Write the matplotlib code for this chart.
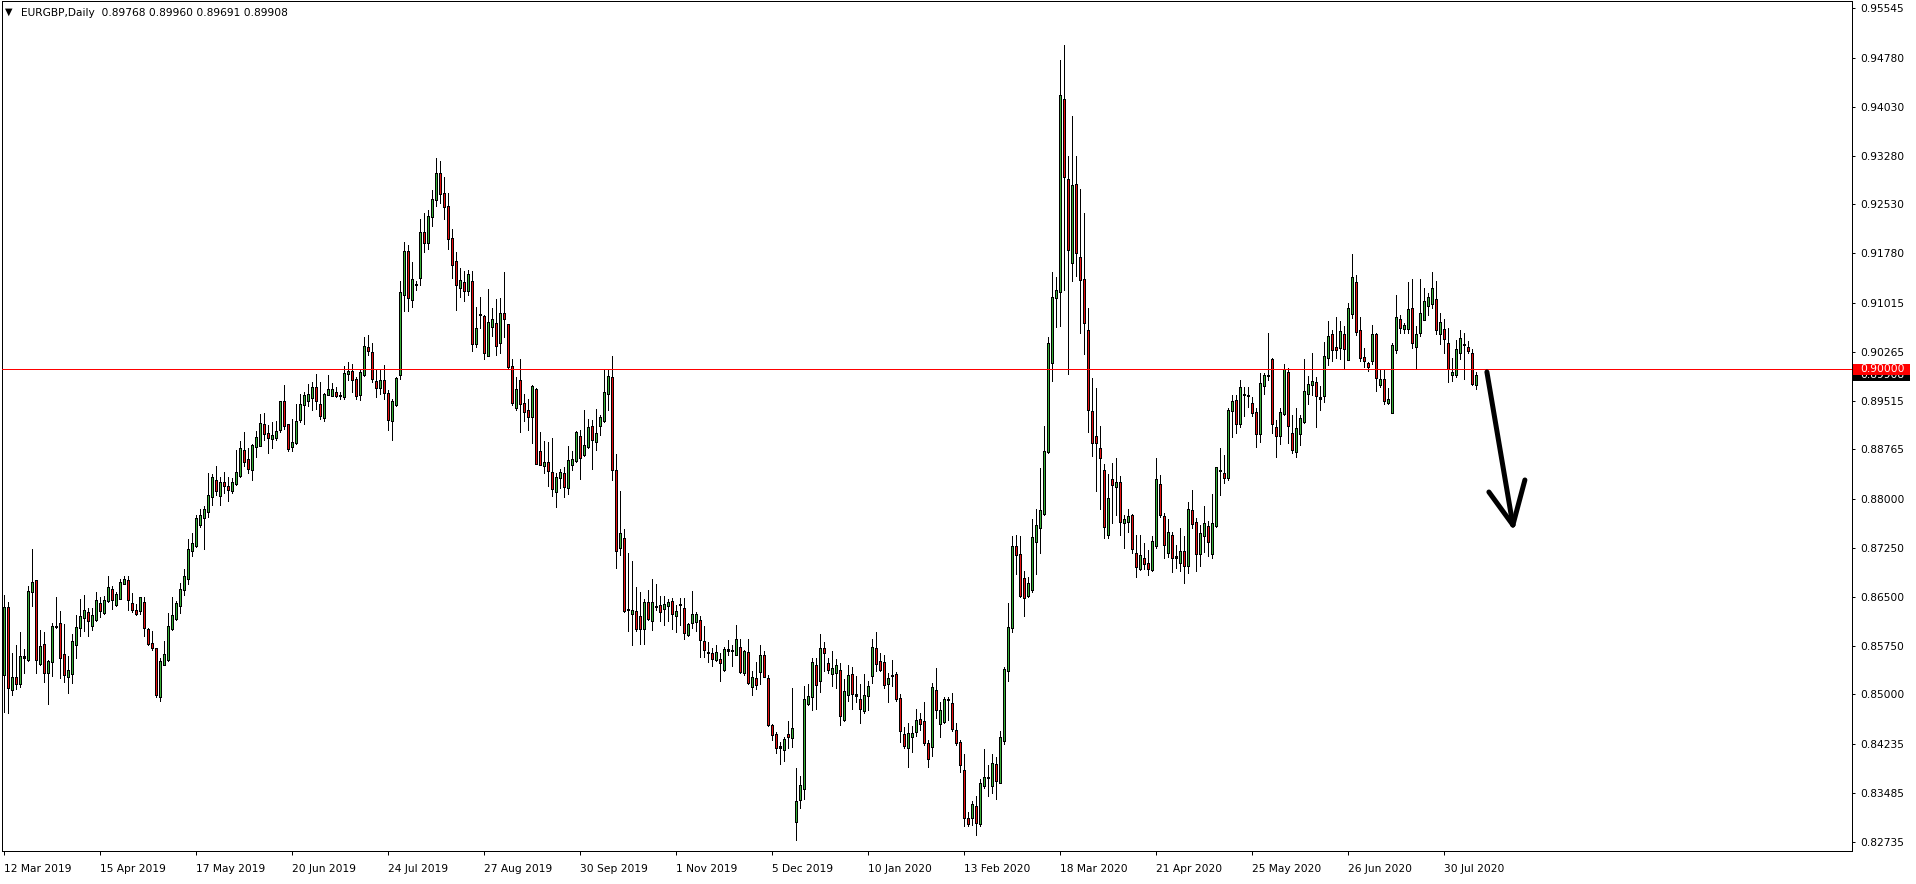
import numpy as np
import matplotlib
matplotlib.use("Agg")
import matplotlib.pyplot as plt
from matplotlib.patches import Rectangle
from matplotlib.transforms import IdentityTransform

symbol_title = "EURGBP,Daily"

opens = [
    0.85305, 0.86328, 0.85078, 0.85265, 0.85163, 0.85561, 0.85532, 0.86584, 0.86743, 0.85475,
    0.85771, 0.85333, 0.85504, 0.86044, 0.86084, 0.85617, 0.85276, 0.85316, 0.85771, 0.86027,
    0.86186, 0.86260, 0.86061, 0.86146, 0.86402, 0.86254, 0.86442, 0.86613, 0.86379, 0.86470,
    0.86709, 0.86743, 0.86402, 0.86289, 0.86289, 0.86413, 0.86004, 0.85788, 0.85703, 0.84964,
    0.85458, 0.85532, 0.86015, 0.86158, 0.86368, 0.86613, 0.86783, 0.87210, 0.87283, 0.87608,
    0.87721, 0.87818, 0.88034, 0.88290, 0.88063, 0.88262, 0.88188, 0.88131, 0.88245, 0.88358,
    0.88745, 0.88603, 0.88449, 0.88802, 0.88824, 0.89154, 0.89012, 0.88932, 0.88944, 0.89069,
    0.89495, 0.89143, 0.88813, 0.88870, 0.89217, 0.89450, 0.89512, 0.89558, 0.89723, 0.89450,
    0.89257, 0.89609, 0.89598, 0.89643, 0.89586, 0.89575, 0.89927, 0.89967, 0.89836, 0.89609,
    0.89910, 0.90325, 0.90252, 0.89814, 0.89723, 0.89825, 0.89626, 0.89211, 0.89455, 0.89910,
    0.91153, 0.91800, 0.91068, 0.91300, 0.91409, 0.92100, 0.91950, 0.92350, 0.92600, 0.93000,
    0.92700, 0.92500, 0.92000, 0.91650, 0.91256, 0.91324, 0.91210, 0.91352, 0.90386, 0.90841,
    0.90812, 0.90215, 0.90659, 0.90699, 0.90414, 0.90858, 0.90681, 0.90033, 0.89408, 0.89817,
    0.89465, 0.89362, 0.89277, 0.89692, 0.88725, 0.88510, 0.88566, 0.88407, 0.88123, 0.88339,
    0.88396, 0.88180, 0.88538, 0.88595, 0.88964, 0.88680, 0.88805, 0.89123, 0.88879, 0.89135,
    0.89203, 0.89618, 0.89874, 0.88441, 0.87258, 0.87400, 0.86303, 0.86246, 0.86280, 0.86189,
    0.86019, 0.86405, 0.86133, 0.86348, 0.86360, 0.86320, 0.86360, 0.86434, 0.86206, 0.86377,
    0.86320, 0.85922, 0.86110, 0.86121, 0.86133, 0.85808, 0.85638, 0.85621, 0.85541, 0.85541,
    0.85382, 0.85678, 0.85678, 0.85610, 0.85723, 0.85337, 0.85638, 0.85126, 0.85240, 0.85354,
    0.85598, 0.85240, 0.84517, 0.84387, 0.84188, 0.84159, 0.84387, 0.84330, 0.83050, 0.83391,
    0.83555, 0.84856, 0.84962, 0.85444, 0.85219, 0.85701, 0.85468, 0.85323, 0.85339, 0.85364,
    0.84615, 0.85002, 0.85307, 0.84986, 0.84921, 0.84744, 0.84986, 0.85283, 0.85709, 0.85500,
    0.85484, 0.85162, 0.85283, 0.85307, 0.84937, 0.84375, 0.84182, 0.84359, 0.84423, 0.84616,
    0.84583, 0.84238, 0.84198, 0.85066, 0.84559, 0.84583, 0.84921, 0.84857, 0.84439, 0.84262,
    0.83836, 0.83089, 0.83113, 0.83274, 0.83009, 0.83596, 0.83716, 0.83595, 0.83917, 0.83652,
    0.84295, 0.85364, 0.86030, 0.87269, 0.87156, 0.86787, 0.86513, 0.86610, 0.87350, 0.87559,
    0.87775, 0.88740, 0.90107, 0.91096, 0.91192, 0.94150, 0.92921, 0.91634, 0.92840, 0.91715,
    0.91369, 0.90589, 0.89343, 0.88957, 0.88780, 0.88443, 0.87454, 0.88298, 0.88202, 0.88258,
    0.87639, 0.87655, 0.87751, 0.87172, 0.86931, 0.87092, 0.87012, 0.86912, 0.87282, 0.88218,
    0.87731, 0.87178, 0.87434, 0.87107, 0.87025, 0.87194, 0.86974, 0.87824, 0.87639, 0.87158,
    0.87434, 0.87578, 0.87168, 0.87588, 0.88433, 0.88398, 0.88336, 0.89361, 0.89515, 0.89166,
    0.89602, 0.89586, 0.89463, 0.89330, 0.89012, 0.89740, 0.89894, 0.90150, 0.89105, 0.88971,
    0.89320, 0.89945, 0.89002, 0.88731, 0.89012, 0.89192, 0.89617, 0.89755, 0.89791, 0.89550,
    0.89586, 0.90181, 0.90524, 0.90334, 0.90334, 0.90534, 0.90150, 0.90857, 0.91328, 0.90590,
    0.90181, 0.90088, 0.90129, 0.90524, 0.89755, 0.89832, 0.89484, 0.89330, 0.90303, 0.90754,
    0.90626, 0.90626, 0.90934, 0.90344, 0.90560, 0.90765, 0.90969, 0.91000, 0.91062, 0.90549,
    0.90611, 0.90396, 0.89909, 0.89909, 0.90252, 0.90370, 0.90334, 0.90232, 0.89768,
]

highs = [
    0.86527, 0.86413, 0.85629, 0.85760, 0.85959, 0.85691, 0.86669, 0.87238, 0.86760, 0.85987,
    0.85959, 0.85532, 0.86101, 0.86499, 0.86283, 0.86084, 0.85589, 0.85930, 0.86215, 0.86459,
    0.86527, 0.86328, 0.86328, 0.86573, 0.86499, 0.86516, 0.86823, 0.86669, 0.86573, 0.86766,
    0.86823, 0.86812, 0.86556, 0.86385, 0.86499, 0.86499, 0.86015, 0.85970, 0.85710, 0.85561,
    0.85817, 0.86254, 0.86499, 0.86442, 0.86709, 0.86925, 0.87380, 0.87483, 0.87750, 0.87846,
    0.87892, 0.88404, 0.88387, 0.88517, 0.88347, 0.88421, 0.88335, 0.88318, 0.88756, 0.88887,
    0.89029, 0.88790, 0.88847, 0.89040, 0.89302, 0.89325, 0.89143, 0.89188, 0.89200, 0.89510,
    0.89757, 0.89150, 0.89228, 0.89455, 0.89620, 0.89643, 0.89768, 0.89797, 0.89927, 0.89797,
    0.89626, 0.89910, 0.89780, 0.89723, 0.89654, 0.90041, 0.90109, 0.90081, 0.89882, 0.90007,
    0.90496, 0.90519, 0.90394, 0.89984, 0.89996, 0.90064, 0.89683, 0.89541, 0.89882, 0.91350,
    0.91950, 0.91900, 0.91650, 0.91352, 0.92300, 0.92400, 0.92450, 0.92750, 0.93250, 0.93200,
    0.92950, 0.92700, 0.92150, 0.91800, 0.91550, 0.91500, 0.91523, 0.91500, 0.90954, 0.91113,
    0.90830, 0.91227, 0.90943, 0.91079, 0.91096, 0.91495, 0.90690, 0.90158, 0.89874, 0.90158,
    0.89618, 0.89533, 0.89749, 0.89703, 0.89033, 0.88896, 0.88879, 0.88936, 0.88407, 0.88464,
    0.88498, 0.88822, 0.88737, 0.89050, 0.89067, 0.89374, 0.89237, 0.89220, 0.89391, 0.89294,
    0.89999, 0.89988, 0.90204, 0.88691, 0.88123, 0.87542, 0.87173, 0.87042, 0.86644, 0.86576,
    0.86462, 0.86604, 0.86775, 0.86701, 0.86519, 0.86508, 0.86462, 0.86474, 0.86377, 0.86474,
    0.86474, 0.86093, 0.86587, 0.86263, 0.86206, 0.86053, 0.85808, 0.85712, 0.85752, 0.85638,
    0.85723, 0.85837, 0.85752, 0.86064, 0.85848, 0.85678, 0.85848, 0.85354, 0.85496, 0.85752,
    0.85666, 0.85297, 0.84540, 0.84427, 0.84273, 0.84347, 0.84597, 0.85098, 0.83875, 0.83750,
    0.85122, 0.85162, 0.85564, 0.85564, 0.85926, 0.85806, 0.85564, 0.85661, 0.85548, 0.85484,
    0.85243, 0.85444, 0.85420, 0.85283, 0.85162, 0.85307, 0.85203, 0.85846, 0.85951, 0.85629,
    0.85605, 0.85323, 0.85524, 0.85339, 0.85002, 0.84503, 0.84559, 0.84519, 0.84776, 0.84720,
    0.84881, 0.84294, 0.85179, 0.85404, 0.84881, 0.84961, 0.84962, 0.85018, 0.84559, 0.84294,
    0.84077, 0.83194, 0.83355, 0.83435, 0.83700, 0.84158, 0.83917, 0.84077, 0.84037, 0.84439,
    0.85420, 0.86409, 0.87430, 0.87454, 0.87430, 0.86891, 0.86811, 0.87695, 0.87856, 0.88475,
    0.89118, 0.90485, 0.91498, 0.91417, 0.94745, 0.94986, 0.93282, 0.93885, 0.93282, 0.92760,
    0.92398, 0.90935, 0.89866, 0.89705, 0.89118, 0.88539, 0.88394, 0.88555, 0.88636, 0.88362,
    0.87751, 0.87856, 0.87775, 0.87454, 0.87454, 0.87333, 0.87213, 0.87430, 0.88628, 0.88372,
    0.87782, 0.87690, 0.87501, 0.87296, 0.87552, 0.87434, 0.87962, 0.88141, 0.87706, 0.87603,
    0.87895, 0.87670, 0.88080, 0.88500, 0.88782, 0.88679, 0.89397, 0.89602, 0.89602, 0.89832,
    0.89730, 0.89730, 0.89566, 0.89397, 0.89935, 0.89945, 0.90549, 0.90165, 0.89217, 0.89397,
    0.90078, 0.90011, 0.89294, 0.89397, 0.89294, 0.90150, 0.89894, 0.90242, 0.89873, 0.89740,
    0.90421, 0.90744, 0.90601, 0.90795, 0.90744, 0.90662, 0.91011, 0.91769, 0.91446, 0.90795,
    0.90319, 0.90114, 0.90677, 0.90560, 0.89996, 0.89996, 0.89704, 0.90396, 0.91139, 0.90831,
    0.90713, 0.91344, 0.91379, 0.90662, 0.91379, 0.91241, 0.91175, 0.91497, 0.91359, 0.90867,
    0.90765, 0.90626, 0.90165, 0.90447, 0.90601, 0.90549, 0.90437, 0.90304, 0.89960,
]

lows = [
    0.84736, 0.84719, 0.84992, 0.85089, 0.85106, 0.85333, 0.85520, 0.86357, 0.85333, 0.85458,
    0.85191, 0.84850, 0.85276, 0.86015, 0.85248, 0.85191, 0.85021, 0.85174, 0.85561, 0.85902,
    0.85970, 0.85902, 0.85987, 0.86129, 0.86186, 0.86232, 0.86413, 0.86311, 0.86357, 0.86460,
    0.86698, 0.86300, 0.86271, 0.86215, 0.86232, 0.85902, 0.85760, 0.85674, 0.84964, 0.84890,
    0.85447, 0.85520, 0.85987, 0.86141, 0.86243, 0.86527, 0.86698, 0.87124, 0.87266, 0.87579,
    0.87238, 0.87721, 0.87903, 0.88063, 0.87903, 0.88091, 0.87977, 0.88091, 0.88222, 0.88335,
    0.88517, 0.88404, 0.88301, 0.88642, 0.88813, 0.88915, 0.88716, 0.88785, 0.88904, 0.89029,
    0.89086, 0.88733, 0.88733, 0.88847, 0.89188, 0.89154, 0.89427, 0.89370, 0.89382, 0.89228,
    0.89200, 0.89598, 0.89586, 0.89569, 0.89541, 0.89541, 0.89836, 0.89654, 0.89541, 0.89529,
    0.89900, 0.90223, 0.89797, 0.89569, 0.89609, 0.89541, 0.89058, 0.88915, 0.89438, 0.89850,
    0.90886, 0.90886, 0.90954, 0.91210, 0.91290, 0.91800, 0.91850, 0.92200, 0.92500, 0.92550,
    0.92300, 0.91850, 0.91400, 0.90909, 0.91113, 0.91040, 0.91136, 0.90283, 0.90340, 0.90624,
    0.90158, 0.90204, 0.90511, 0.90215, 0.90244, 0.90500, 0.89999, 0.89447, 0.89374, 0.89033,
    0.89203, 0.89067, 0.88862, 0.88538, 0.88521, 0.88407, 0.88197, 0.88043, 0.87873, 0.88168,
    0.88026, 0.88083, 0.88441, 0.88566, 0.88310, 0.88669, 0.88782, 0.88464, 0.88748, 0.88993,
    0.89192, 0.89374, 0.88293, 0.86946, 0.87145, 0.86263, 0.85979, 0.85752, 0.85979, 0.85780,
    0.85769, 0.86150, 0.85996, 0.86303, 0.86121, 0.86064, 0.86121, 0.86008, 0.85962, 0.86064,
    0.85848, 0.85894, 0.86019, 0.85979, 0.85581, 0.85581, 0.85496, 0.85439, 0.85507, 0.85211,
    0.85354, 0.85598, 0.85439, 0.85598, 0.85325, 0.85297, 0.85166, 0.84995, 0.85086, 0.85166,
    0.85268, 0.84517, 0.84302, 0.84103, 0.83932, 0.83972, 0.84176, 0.84188, 0.82766, 0.83250,
    0.83394, 0.84840, 0.84760, 0.84776, 0.85042, 0.85363, 0.85323, 0.85122, 0.85098, 0.84535,
    0.84583, 0.84905, 0.84776, 0.84881, 0.84559, 0.84720, 0.84760, 0.85179, 0.85364, 0.85364,
    0.85098, 0.84881, 0.85122, 0.84905, 0.84262, 0.84182, 0.83876, 0.84118, 0.84359, 0.84455,
    0.84214, 0.83876, 0.84053, 0.84640, 0.84343, 0.84559, 0.84600, 0.84439, 0.84214, 0.83812,
    0.82977, 0.82977, 0.82993, 0.82832, 0.82977, 0.83555, 0.83435, 0.83491, 0.83394, 0.83636,
    0.84238, 0.85203, 0.85951, 0.86851, 0.86489, 0.86208, 0.86489, 0.86570, 0.86851, 0.87172,
    0.87751, 0.88716, 0.89809, 0.90646, 0.90669, 0.91208, 0.89922, 0.91353, 0.91433, 0.90549,
    0.90227, 0.89038, 0.88660, 0.88121, 0.87856, 0.87398, 0.87398, 0.87639, 0.87751, 0.87454,
    0.87253, 0.87494, 0.87172, 0.86811, 0.86915, 0.86931, 0.86835, 0.86890, 0.87246, 0.87731,
    0.87091, 0.87107, 0.86886, 0.86937, 0.86901, 0.86707, 0.86871, 0.87552, 0.86902, 0.86973,
    0.87193, 0.87127, 0.87091, 0.87568, 0.88065, 0.88254, 0.88295, 0.88951, 0.89023, 0.89105,
    0.89279, 0.89412, 0.89279, 0.88807, 0.88884, 0.89617, 0.89832, 0.89023, 0.88654, 0.88848,
    0.89294, 0.88859, 0.88705, 0.88643, 0.88833, 0.89176, 0.89463, 0.89602, 0.89115, 0.89371,
    0.89499, 0.90063, 0.90129, 0.90165, 0.90150, 0.90011, 0.90140, 0.90780, 0.90524, 0.90129,
    0.90027, 0.89976, 0.90078, 0.89668, 0.89730, 0.89463, 0.89463, 0.89320, 0.90252, 0.90560,
    0.90560, 0.90560, 0.90319, 0.90011, 0.90508, 0.90754, 0.90831, 0.90934, 0.90539, 0.90385,
    0.90252, 0.89807, 0.89822, 0.89884, 0.90150, 0.89843, 0.90252, 0.89755, 0.89691,
]

closes = [
    0.86328, 0.85106, 0.85265, 0.85163, 0.85589, 0.85575, 0.86573, 0.86726, 0.85532, 0.85742,
    0.85333, 0.85504, 0.86044, 0.86050, 0.85561, 0.85305, 0.85373, 0.85817, 0.86027, 0.86198,
    0.86289, 0.86129, 0.86215, 0.86442, 0.86289, 0.86442, 0.86641, 0.86453, 0.86539, 0.86726,
    0.86766, 0.86453, 0.86311, 0.86243, 0.86488, 0.86027, 0.85777, 0.85720, 0.85004, 0.85504,
    0.85606, 0.86044, 0.86215, 0.86396, 0.86613, 0.86811, 0.87227, 0.87312, 0.87710, 0.87750,
    0.87846, 0.88051, 0.88335, 0.88131, 0.88262, 0.88205, 0.88148, 0.88262, 0.88415, 0.88773,
    0.88586, 0.88472, 0.88824, 0.88955, 0.89165, 0.89012, 0.88944, 0.88972, 0.89046, 0.89507,
    0.89126, 0.88785, 0.88875, 0.89200, 0.89461, 0.89598, 0.89609, 0.89723, 0.89512, 0.89285,
    0.89609, 0.89689, 0.89689, 0.89586, 0.89592, 0.89939, 0.89967, 0.89836, 0.89598, 0.89950,
    0.90348, 0.90291, 0.89853, 0.89723, 0.89825, 0.89637, 0.89228, 0.89495, 0.89853, 0.91180,
    0.91800, 0.91097, 0.91381, 0.91295, 0.92100, 0.91950, 0.92350, 0.92600, 0.93000, 0.92700,
    0.92500, 0.92000, 0.91600, 0.91295, 0.91364, 0.91210, 0.91455, 0.90386, 0.90624, 0.90835,
    0.90261, 0.90716, 0.90755, 0.90357, 0.90852, 0.90784, 0.90033, 0.89487, 0.89692, 0.89465,
    0.89351, 0.89277, 0.89732, 0.88555, 0.88538, 0.88566, 0.88441, 0.88157, 0.88339, 0.88407,
    0.88197, 0.88595, 0.88612, 0.89021, 0.88634, 0.88822, 0.89106, 0.88919, 0.89010, 0.89260,
    0.89647, 0.89885, 0.88453, 0.87213, 0.87474, 0.86292, 0.86310, 0.86292, 0.86008, 0.86019,
    0.86417, 0.86161, 0.86405, 0.86355, 0.86280, 0.86377, 0.86417, 0.86235, 0.86280, 0.86383,
    0.85951, 0.86076, 0.86223, 0.86223, 0.85848, 0.85695, 0.85644, 0.85553, 0.85638, 0.85484,
    0.85695, 0.85684, 0.85672, 0.85848, 0.85354, 0.85655, 0.85183, 0.85257, 0.85155, 0.85598,
    0.85280, 0.84540, 0.84387, 0.84188, 0.84194, 0.84301, 0.84347, 0.84472, 0.83346, 0.83600,
    0.84921, 0.84962, 0.85484, 0.85146, 0.85709, 0.85645, 0.85388, 0.85404, 0.85444, 0.84680,
    0.85042, 0.85283, 0.85018, 0.84990, 0.84776, 0.84986, 0.85122, 0.85725, 0.85468, 0.85388,
    0.85146, 0.85243, 0.85288, 0.84937, 0.84439, 0.84214, 0.84399, 0.84399, 0.84600, 0.84559,
    0.84262, 0.84021, 0.85098, 0.84760, 0.84744, 0.84921, 0.84925, 0.84479, 0.84262, 0.83916,
    0.83113, 0.83009, 0.83314, 0.83033, 0.83636, 0.83716, 0.83720, 0.83941, 0.83676, 0.84343,
    0.85388, 0.86030, 0.87269, 0.87156, 0.86513, 0.86489, 0.86707, 0.87414, 0.87591, 0.87832,
    0.88740, 0.90388, 0.91096, 0.91208, 0.94207, 0.92961, 0.91835, 0.92816, 0.91795, 0.91369,
    0.90710, 0.89383, 0.88877, 0.88877, 0.88636, 0.87574, 0.88017, 0.88218, 0.88258, 0.87655,
    0.87687, 0.87735, 0.87237, 0.86971, 0.87132, 0.87012, 0.86931, 0.87348, 0.88306, 0.87757,
    0.87296, 0.87486, 0.87107, 0.87115, 0.87194, 0.86974, 0.87844, 0.87629, 0.87158, 0.87475,
    0.87619, 0.87347, 0.87619, 0.88490, 0.88440, 0.88336, 0.89361, 0.89499, 0.89166, 0.89719,
    0.89608, 0.89590, 0.89330, 0.89012, 0.89781, 0.89894, 0.89900, 0.89156, 0.88971, 0.89330,
    0.89996, 0.89125, 0.88766, 0.89089, 0.89243, 0.89653, 0.89755, 0.89807, 0.89586, 0.89555,
    0.90191, 0.90498, 0.90303, 0.90303, 0.90575, 0.90319, 0.90934, 0.91410, 0.90575, 0.90181,
    0.90129, 0.90037, 0.90524, 0.89873, 0.89842, 0.89514, 0.89525, 0.90355, 0.90795, 0.90642,
    0.90662, 0.90918, 0.90406, 0.90534, 0.90847, 0.91036, 0.91103, 0.91241, 0.90611, 0.90713,
    0.90473, 0.90011, 0.89945, 0.90293, 0.90473, 0.90375, 0.90283, 0.89771, 0.89908,
]

date_labels = ["12 Mar 2019", "15 Apr 2019", "17 May 2019", "20 Jun 2019", "24 Jul 2019",
               "27 Aug 2019", "30 Sep 2019", "1 Nov 2019", "5 Dec 2019", "10 Jan 2020",
               "13 Feb 2020", "18 Mar 2020", "21 Apr 2020", "25 May 2020", "26 Jun 2020",
               "30 Jul 2020"]
date_label_bars = [0, 24, 48, 72, 96, 120, 144, 168, 192, 216, 240, 264, 288, 312, 336, 360]

price_ticks = [0.95545, 0.94780, 0.94030, 0.93280, 0.92530, 0.91780, 0.91015, 0.90265,
               0.89515, 0.88765, 0.88000, 0.87250, 0.86500, 0.85750, 0.85000, 0.84235,
               0.83485, 0.82735]

level_line = 0.90000

arrow_shaft = [(370.85, 0.89955), (377.35, 0.87603)]
arrow_head_left = [(371.35, 0.88110), (377.35, 0.87603)]
arrow_head_right = [(380.35, 0.88295), (377.35, 0.87603)]

# ---------------------------------------------------------------------------
o = np.array(opens); h = np.array(highs); l = np.array(lows); c = np.array(closes)
n = len(c)
assert len(o) == n and len(h) == n and len(l) == n, (len(o), len(h), len(l), n)

BULL = "#36b036"
BEAR = "#e81010"
PX = 0.72  # one pixel in points at 100 dpi

W, H, DPI = 1916, 884, 100
fig = plt.figure(figsize=(W / DPI, H / DPI), dpi=DPI, facecolor="white")
px_l, px_r, px_t, px_b = 2, 1852, 1, 851
ax = fig.add_axes([px_l / W, 1 - px_b / H, (px_r - px_l) / W, (px_b - px_t) / H])
ax.set_facecolor("white")
x0 = -0.375
ax.set_xlim(x0, x0 + (px_r - px_l) / 4.0)
y_lo, y_hi = 0.82592, 0.95657
ax.set_ylim(y_lo, y_hi)
ppx = (y_hi - y_lo) / (px_b - px_t)  # price per pixel

idx = np.arange(n)
bull = c >= o
b_lo = np.minimum(o, c)
b_hi = np.maximum(o, c)

# wicks (1 px)
ax.vlines(idx, l, h, colors="black", linewidth=PX, antialiased=False, zorder=2)
# body outline: 3 px wide black column covering the body plus 1 px border
ax.vlines(idx, b_lo - ppx * 0.5, b_hi + ppx * 0.5, colors="black",
          linewidth=3 * PX, antialiased=False, zorder=3, capstyle="butt")
# coloured core: 1 px wide
core = (b_hi - b_lo) > ppx * 1.2
ax.vlines(idx[core], (b_lo + ppx * 0.5)[core], (b_hi - ppx * 0.5)[core],
          colors=np.where(bull, BULL, BEAR)[core], linewidth=PX,
          antialiased=False, zorder=4, capstyle="butt")

ax.axhline(level_line, color="#ff0000", linewidth=PX, antialiased=False, zorder=5)

for seg in (arrow_shaft, arrow_head_left, arrow_head_right):
    xs = [p[0] for p in seg]; ys = [p[1] for p in seg]
    ax.plot(xs, ys, color="black", linewidth=3.6, solid_capstyle="round", zorder=6)

for s in ax.spines.values():
    s.set_color("black"); s.set_linewidth(PX)

ax.yaxis.tick_right()
ax.set_yticks(price_ticks)
ax.set_yticklabels([f"{p:.5f}" for p in price_ticks])
ax.tick_params(axis="y", direction="out", length=2.5, width=PX, pad=3.5,
               labelsize=7.7, colors="black")

ax.set_xticks(date_label_bars)
ax.set_xticklabels(date_labels)
for t in ax.get_xticklabels():
    t.set_horizontalalignment("left")
ax.tick_params(axis="x", direction="out", length=3, width=PX, pad=6.5,
               labelsize=7.7, colors="black")

# title line
fig.text(5 / W, 1 - 12 / H, "\u25bc", fontsize=7, va="center", ha="left", color="black")
fig.text(21 / W, 1 - 13 / H,
         f"{symbol_title}  {opens[-1]:.5f} {highs[-1]:.5f} {lows[-1]:.5f} {closes[-1]:.5f}",
         fontsize=7.7, va="center", ha="left", color="black")

# price boxes on the right axis (bid label under the level-line label)
fig.canvas.draw()
ident = IdentityTransform()
def price_box(price, face, text, z):
    y = ax.transData.transform((0, price))[1]
    fig.add_artist(Rectangle((1853, y - 5.5), 57, 11, transform=ident,
                             facecolor=face, edgecolor="none", zorder=z))
    fig.text(1860, y, text, transform=ident, fontsize=7.7, color="white",
             va="center", ha="left", zorder=z + 1)

price_box(closes[-1], "black", f"{closes[-1]:.5f}", 10)
price_box(level_line, "#ff0000", f"{level_line:.5f}", 12)

fig.savefig("out.png", dpi=DPI, facecolor="white")
